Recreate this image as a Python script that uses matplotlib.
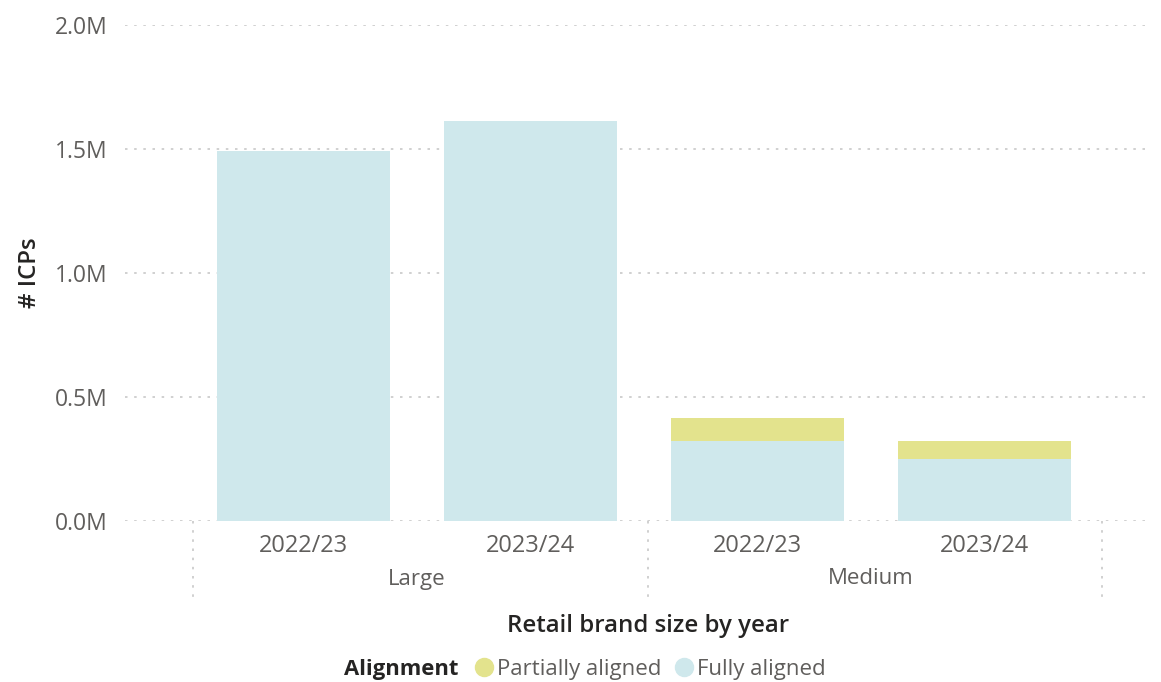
import matplotlib
matplotlib.use("Agg")
import matplotlib.pyplot as plt
from matplotlib.lines import Line2D
from matplotlib.ticker import FuncFormatter, MultipleLocator

# ---- data ----
groups = ["Large", "Medium"]
years = ["2022/23", "2023/24"]
fully_aligned = [1.492e6, 1.613e6, 0.323e6, 0.250e6]
partially_aligned = [0.0, 0.0, 0.092e6, 0.073e6]
series_names = ["Partially aligned", "Fully aligned"]

# ---- style ----
FONT = "Open Sans"
C_FULL = "#CFE8EC"
C_PART = "#E3E38D"
C_TICK = "#605E5C"
C_TITLE = "#252423"
C_GRID = "#C8C8C8"

W, H = 1161, 682
fig = plt.figure(figsize=(W / 100, H / 100), dpi=100)
ax_l, ax_r, ax_b, ax_t = 125, 1150, 521, 25
ax = fig.add_axes([ax_l / W, 1 - ax_b / H, (ax_r - ax_l) / W, (ax_b - ax_t) / H])

n = len(fully_aligned)
x = list(range(n))
bw = 0.762
ax.bar(x, fully_aligned, width=bw, color=C_FULL, zorder=2)
ax.bar(x, partially_aligned, bottom=fully_aligned, width=bw, color=C_PART, zorder=2)

ax.set_xlim(-0.786, 3.729)
ax.set_ylim(0, 2.0e6)
ax.yaxis.set_major_locator(MultipleLocator(0.5e6))
ax.yaxis.set_major_formatter(FuncFormatter(lambda v, p: f"{v/1e6:.1f}M"))
ax.grid(axis="y", color=C_GRID, linestyle=(0, (1.5, 4)), linewidth=1.2, zorder=0)
for s in ax.spines.values():
    s.set_visible(False)
ax.tick_params(axis="y", length=0, pad=12.5, labelsize=16.5, labelcolor=C_TICK)
for lab in ax.get_yticklabels():
    lab.set_fontfamily(FONT)

# x tick labels (years)
ax.set_xticks(x)
ax.set_xticklabels(years * len(groups), fontfamily=FONT, fontsize=17, color=C_TICK)
ax.tick_params(axis="x", length=0, pad=9)

# group labels and dividers
trans = ax.get_xaxis_transform()
per = len(years)
axh = ax_b - ax_t
for gi, g in enumerate(groups):
    c = (gi * per + (gi + 1) * per - 1) / 2
    ax.text(c, -58 / axh, g, transform=trans, ha="center", va="center",
            fontfamily=FONT, fontsize=16, color=C_TICK)
for d in [-0.487, 1.518, 3.518]:
    ax.plot([d, d], [0, -80 / axh], transform=trans, color=C_GRID,
            linestyle=(0, (1.5, 4)), linewidth=1.2, clip_on=False)

# axis titles
fig.text(648 / W, 1 - 626 / H, "Retail brand size by year", ha="center", va="center",
         fontfamily=FONT, fontsize=17.3, fontweight="semibold", color=C_TITLE)
fig.text(30 / W, 1 - 273 / H, "# ICPs", ha="center", va="center", rotation=90,
         fontfamily=FONT, fontsize=17.3, fontweight="semibold", color=C_TITLE)

# legend
fig.text(344 / W, 1 - 669 / H, "Alignment", ha="left", va="center",
         fontfamily=FONT, fontsize=15.8, fontweight="bold", color=C_TITLE)
handles = [Line2D([], [], marker="o", linestyle="", markersize=13, color=C_PART),
           Line2D([], [], marker="o", linestyle="", markersize=13, color=C_FULL)]
leg = fig.legend(handles, series_names, loc="center left", bbox_to_anchor=(475 / W, 1 - 669 / H),
                 ncol=2, frameon=False, handlelength=0.8, handletextpad=0.18, columnspacing=0.62,
                 borderpad=0, borderaxespad=0,
                 prop={"family": FONT, "size": 16})
for t in leg.get_texts():
    t.set_color(C_TICK)

fig.savefig("out.png", dpi=100)
